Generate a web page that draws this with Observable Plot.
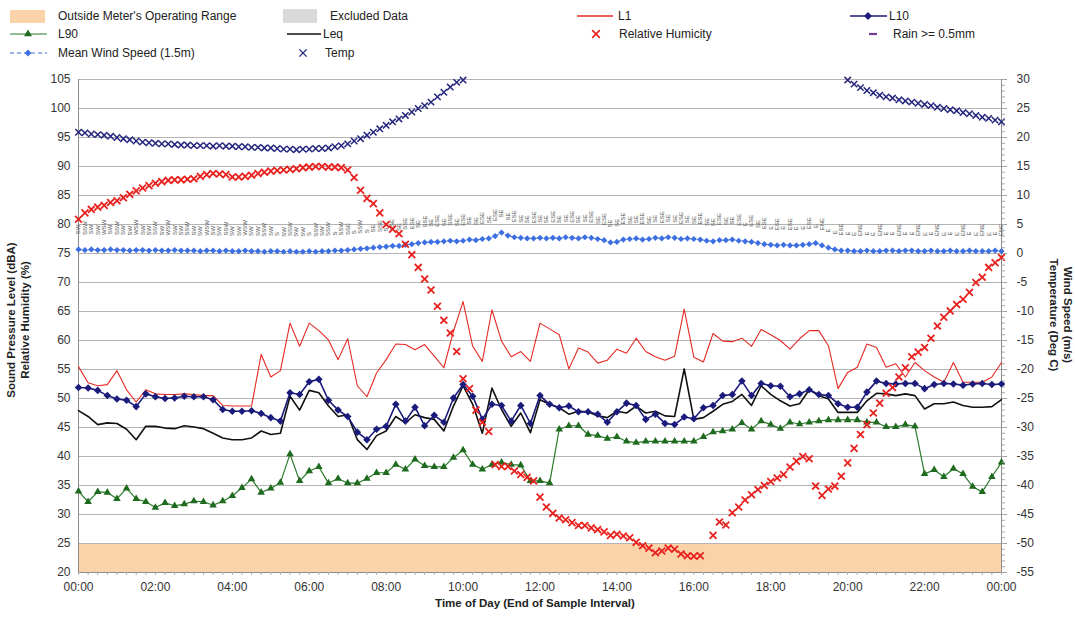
<!DOCTYPE html>
<html><head><meta charset="utf-8">
<script src="https://cdn.jsdelivr.net/npm/d3@7"></script>
<script src="https://cdn.jsdelivr.net/npm/@observablehq/plot@0.6"></script>
<style>
body{margin:0;background:#fff;font-family:'Liberation Sans',Arial,sans-serif;}
#legend,#chart{display:block;width:1075px;}
</style></head><body>
<div id="legend"></div>
<div id="chart"></div>
<script>
// ---- sample times (minutes after midnight) ----
const T15 = d3.range(97).map(i => i * 15);   // noise: 15-min intervals 00:00..24:00
const T10 = d3.range(145).map(j => j * 10);  // weather: 10-min intervals 00:00..24:00

// ---- noise levels (dBA) ----
const L1 = [55.5,52.7,52.2,52.4,54.8,51.5,49.4,51.5,50.8,50.7,50.7,50.8,50.7,50.5,50.5,48.8,48.7,48.7,48.7,57.6,53.7,54.8,63.0,59.0,63.0,
61.7,60.1,56.7,60.3,52.2,50.3,54.4,56.7,59.4,59.3,58.4,59.3,57.3,55.3,61.6,66.7,59.0,56.4,65.3,59.9,57.2,58.1,56.4,63.0,
62.0,61.0,55.1,58.7,58.0,56.1,56.6,58.5,57.8,60.4,58.1,57.2,56.6,57.3,65.4,57.1,56.3,61.2,59.9,59.8,60.4,59.0,61.9,61.0,
60.0,58.5,60.3,61.7,61.7,59.1,51.7,54.5,55.4,59.4,58.8,55.4,56.0,53.7,56.2,54.8,53.7,52.8,56.2,52.8,52.8,52.8,53.7,56.2];
const L10 = [51.9,51.8,51.4,50.5,49.9,49.7,48.6,50.8,50.3,50.0,50.1,50.4,50.3,50.3,49.8,48.1,47.8,47.8,47.9,47.4,46.7,46.1,51.0,50.7,52.9,
53.3,49.7,48.0,46.9,44.2,42.9,44.7,45.2,49.0,46.1,48.5,45.3,47.1,45.9,50.1,52.4,50.4,46.4,49.0,48.8,46.1,48.8,45.7,50.5,
49.0,48.4,48.7,47.7,47.7,47.3,45.9,47.7,49.2,48.8,46.4,47.3,45.7,45.5,46.8,46.5,48.4,48.8,50.5,50.7,53.0,50.5,52.6,52.2,
52.1,50.3,50.8,51.5,50.7,50.5,49.1,48.5,48.5,51.1,53.0,52.6,52.5,52.6,52.6,51.7,52.4,52.6,52.5,52.3,52.5,52.6,52.4,52.5];
const L90 = [34.0,32.2,33.9,33.8,32.7,34.5,32.7,32.2,31.2,32.0,31.5,31.8,32.3,32.2,31.6,32.3,33.2,34.6,36.1,33.8,34.5,35.5,40.4,35.8,37.5,
38.2,35.4,36.2,35.4,35.4,36.2,37.2,37.2,38.6,37.8,39.5,38.4,38.2,38.2,39.8,41.1,38.6,37.8,38.6,39.0,38.6,38.5,35.8,35.8,
35.4,44.7,45.3,45.3,43.8,43.6,43.1,43.4,42.6,42.4,42.6,42.6,42.6,42.6,42.6,42.6,43.4,44.2,44.4,44.7,45.8,44.7,46.1,45.5,
44.8,45.9,45.6,45.9,46.1,46.3,46.3,46.3,46.3,45.9,45.9,45.1,45.1,45.5,45.2,37.0,37.7,36.5,37.9,37.0,34.8,33.9,36.5,39.0];
const LEQ = [47.9,46.9,45.5,45.8,45.7,44.7,42.9,45.2,45.2,44.9,44.8,45.3,45.1,44.8,44.0,43.2,42.9,42.9,43.2,44.4,43.8,44.0,50.4,48.0,51.4,
51.0,48.7,46.9,47.2,42.9,41.2,43.6,44.4,46.9,45.8,47.2,46.7,46.4,44.4,48.7,52.2,49.0,44.0,51.8,48.1,45.2,47.5,44.1,49.8,
49.0,48.4,47.3,47.8,47.7,47.0,46.7,47.8,47.5,48.7,47.5,47.8,47.0,46.9,55.1,46.4,46.7,47.8,49.0,49.5,50.7,48.8,52.2,50.7,
49.6,48.7,49.1,51.5,50.5,49.9,47.6,47.6,47.6,49.6,50.9,50.8,50.5,50.8,50.5,48.2,49.1,49.1,49.4,48.8,48.5,48.5,48.6,49.8];

// ---- weather (10-min) ----
const RH = [80.9,82.0,82.6,83.0,83.3,83.8,84.1,84.6,85.2,85.8,86.3,86.7,87.1,87.4,87.6,87.7,87.7,87.8,87.9,88.3,
88.6,88.8,88.7,88.6,88.2,88.2,88.3,88.5,88.8,89.0,89.2,89.3,89.4,89.5,89.6,89.8,89.9,90.0,90.0,89.9,89.9,89.8,
89.4,88.1,85.9,84.5,83.6,82.0,80.0,79.2,78.4,
76.6,74.8,72.6,70.6,68.7,65.9,63.5,61.3,58.1,53.4,51.7,48.0,45.9,44.3,
38.6,38.3,38.3,37.5,36.9,36.4,35.8,
33.0,31.3,30.2,29.4,29.1,28.6,28.1,28.1,27.7,27.4,27.0,26.4,26.6,26.3,26.0,25.2,24.6,24.2,23.4,23.7,24.2,24.0,23.2,22.9,22.8,22.9,null,
26.4,28.7,28.2,30.3,31.3,32.5,33.4,34.3,35.0,35.7,36.3,36.9,38.2,39.2,40.0,39.6,
34.9,33.3,34.4,34.9,36.6,38.9,41.4,43.8,45.5,47.5,49.2,50.9,51.9,53.7,55.3,57.2,58.0,58.8,60.4,62.5,64.0,65.1,66.2,67.1,68.3,70.0,70.9,72.6,73.4,74.3];
// temperature (deg C); readings above 30 deg C lie off the chart and are not shown
const TEMP = [20.9,20.8,20.6,20.5,20.4,20.2,20.0,19.8,19.6,19.4,19.2,19.1,19.0,18.9,18.9,18.8,18.7,18.7,18.6,18.6,
18.6,18.5,18.6,18.5,18.5,18.4,18.4,18.3,18.3,18.2,18.2,18.1,18.0,18.0,17.9,18.0,18.0,18.1,18.1,18.2,
18.4,18.6,18.9,19.4,19.8,20.4,20.9,21.5,22.1,22.7,23.2,23.8,24.4,25.0,25.5,26.1,27.0,27.8,28.7,29.5,29.9,
...Array(59).fill(null),
29.9,29.2,28.6,28.1,27.7,27.3,27.0,26.8,26.5,26.3,26.1,25.9,25.7,25.5,25.2,25.0,24.8,24.6,24.3,24.1,23.8,23.5,23.3,23.0,22.7];
const WIND = [0.7,0.6,0.7,0.6,0.6,0.7,0.6,0.6,0.5,0.6,0.6,0.5,0.6,0.5,0.5,0.6,0.5,0.5,0.5,0.4,
0.5,0.5,0.4,0.5,0.4,0.4,0.5,0.4,0.4,0.3,0.4,0.4,0.3,0.4,0.3,0.3,0.4,0.3,0.4,0.4,0.5,0.5,
0.6,0.7,0.8,0.9,1.0,1.1,1.2,1.3,1.3,1.5,1.6,1.8,1.9,2.0,2.0,2.1,2.2,2.1,
2.2,2.4,2.3,2.5,2.6,3.0,3.6,3.1,2.8,2.7,2.6,2.6,2.7,
2.6,2.7,2.6,2.8,2.7,2.6,2.8,2.7,2.5,2.3,1.9,2.0,2.4,2.5,2.6,2.4,2.5,2.7,2.6,2.8,2.7,2.5,2.6,2.5,2.4,2.2,2.1,2.3,
2.3,2.4,2.2,2.1,2.0,1.8,1.6,1.5,
1.4,1.5,1.4,1.4,1.5,1.6,1.8,1.4,1.0,0.7,0.5,
0.5,0.4,0.4,0.5,0.4,0.4,0.5,0.5,0.4,0.5,0.5,0.4,0.4,0.5,0.4,0.4,0.5,0.4,0.4,0.5,0.4,0.4,0.4,0.5,0.4];
const WIND_DIR = ("SW SSW SW SW WSW SW SSW SW SW WSW SW SW SSW SW WSW SW SW SSW SW SW " +
"WSW SW SW SSW SW SW WSW SW SW SSW SW S SW SSW SW SW S SSW SW SSW " +
"S SSW SSE S SSW S SE SSE S SSE SE SSE ESE SE SSE SE ESE SE SSE SE " +
"ESE SE SE ESE SE ESE SE SE ESE SE SE ESE SE SE ESE SE SE ESE SE SE " +
"ESE SE ESE SE SE ESE SE SE ESE SE SE ESE SE SE ESE SE SE ESE SE SE " +
"ESE SE SE ESE E ESE SE ESE E ESE E ESE E E ESE E ENE E E ESE " +
"E E ENE E E ENE E E ENE E E ENE E E ENE E E E ENE E E ENE E E ENE").split(" ");

// ---- axis / reference values ----
const LEFT_TICKS = d3.range(20, 106, 5);      // dBA / %
const RIGHT_MINOR = d3.range(20, 106, 1);
const RIGHT_OFFSET = 75;                      // right axis value = left value - 75
const X_TICKS = d3.range(0, 1441, 120);
const X_MINOR = d3.range(0, 1441, 15);
const METER_RANGE = [{lo: 20, hi: 25}];

const fmtTime = m => String(Math.floor(m / 60) % 24).padStart(2, "0") + ":" + String(m % 60).padStart(2, "0");
const rows = (times, vals) => times.map((t, i) => ({t, v: vals[i] == null ? NaN : vals[i]}));
const l1 = rows(T15, L1), l10 = rows(T15, L10), l90 = rows(T15, L90), leq = rows(T15, LEQ);
const rh = rows(T10, RH), temp = rows(T10, TEMP);
const wind = T10.map((t, i) => ({t, v: WIND[i], dir: WIND_DIR[i]}));

const C = {l1: "#e52a24", l10: "#1b1b7c", l90: "#2a7a2a", l90m: "#1e6a1e", leq: "#111", rh: "#e8211e",
  temp: "#25257d", wind: "#3d6fe0", orange: "#fbd3a9", excl: "#d9d9d9", rain: "#7a3a9a"};

const chart = Plot.plot({
  width: 1075, height: 553,
  marginTop: 14, marginBottom: 46, marginLeft: 78, marginRight: 74,
  style: {fontFamily: "'Liberation Sans', Arial, sans-serif", fontSize: "12px", color: "#333", background: "#fff"},
  x: {domain: [0, 1440]},
  y: {domain: [20, 105]},
  marks: [
    Plot.rect(METER_RANGE, {y1: "lo", y2: "hi", fill: C.orange}),
    Plot.gridY(LEFT_TICKS, {stroke: "#b4b4b4", strokeOpacity: 1}),
    Plot.ruleX([0, 1440], {stroke: "#8c8c8c"}),
    Plot.text(wind, {x: "t", y: d => d.v + RIGHT_OFFSET + 2.6, text: "dir", rotate: -90, textAnchor: "start",
      fontSize: 6, fill: "#555"}),
    Plot.line(wind, {x: "t", y: d => d.v + RIGHT_OFFSET, stroke: C.wind, strokeWidth: 1, strokeDasharray: "3,2"}),
    Plot.dot(wind, {x: "t", y: d => d.v + RIGHT_OFFSET, symbol: "diamond2", r: 2.8, fill: C.wind}),
    Plot.line(l1, {x: "t", y: "v", stroke: C.l1, strokeWidth: 1.1}),
    Plot.line(leq, {x: "t", y: "v", stroke: C.leq, strokeWidth: 1.6}),
    Plot.line(l10, {x: "t", y: "v", stroke: C.l10, strokeWidth: 1.6}),
    Plot.dot(l10, {x: "t", y: "v", symbol: "diamond2", r: 3.4, fill: C.l10}),
    Plot.line(l90, {x: "t", y: "v", stroke: C.l90, strokeWidth: 1.2}),
    Plot.dot(l90, {x: "t", y: "v", symbol: "triangle2", r: 3.6, fill: C.l90m}),
    Plot.dot(rh, {x: "t", y: "v", symbol: "times", r: 3.2, stroke: C.rh, strokeWidth: 1.8}),
    Plot.dot(temp, {x: "t", y: d => d.v + RIGHT_OFFSET, symbol: "times", r: 3, stroke: C.temp, strokeWidth: 1.5}),
    Plot.ruleY([20], {stroke: "#8c8c8c"}),
    Plot.axisY(LEFT_TICKS, {anchor: "left", tickSize: 0, tickPadding: 8, label: null}),
    Plot.axisY(LEFT_TICKS, {anchor: "right", tickSize: 5, tickPadding: 10, tickFormat: d => String(d - RIGHT_OFFSET), label: null, stroke: "#999"}),
    Plot.axisY(RIGHT_MINOR, {anchor: "right", tickSize: 3, tickFormat: () => "", label: null, stroke: "#aaa"}),
    Plot.axisX(X_MINOR, {anchor: "bottom", tickSize: 3, tickFormat: () => "", label: null, stroke: "#aaa"}),
    Plot.axisX(X_TICKS, {anchor: "bottom", tickSize: 0, tickPadding: 10, tickFormat: fmtTime, label: null})
  ]
});

// axis titles
const s = d3.select(chart);
const bold = sel => sel.attr("font-weight", "bold").attr("font-size", 11.5).attr("fill", "#222").attr("text-anchor", "middle");
s.append("text").attr("transform", "translate(15,255) rotate(-90)").text("Sound Pressure Level (dBA)").call(bold);
s.append("text").attr("transform", "translate(29,255) rotate(-90)").text("Relative Humidity (%)").call(bold);
s.append("text").attr("transform", "translate(1064,250) rotate(90)").text("Wind Speed (m/s)").call(bold);
s.append("text").attr("transform", "translate(1050,250) rotate(90)").text("Temperature (Deg C)").call(bold);
s.append("text").attr("x", 535).attr("y", 542).text("Time of Day (End of Sample Interval)").call(bold);
document.getElementById("chart").appendChild(chart);

// legend
const lg = d3.select("#legend").append("svg").attr("width", 1075).attr("height", 65)
  .style("display", "block").style("font-family", "'Liberation Sans', Arial, sans-serif").style("font-size", "12px");
const txt = (x, y, t) => lg.append("text").attr("x", x).attr("y", y).attr("dy", "0.35em").attr("fill", "#222").text(t);
const sym = (type, size) => d3.symbol(type, size)();
const R1 = 16, R2 = 34, R3 = 53;
lg.append("rect").attr("x", 10).attr("y", 10).attr("width", 35).attr("height", 13).attr("fill", C.orange);
txt(58, R1, "Outside Meter's Operating Range");
lg.append("rect").attr("x", 283).attr("y", 9).attr("width", 34).attr("height", 14).attr("fill", C.excl);
txt(330, R1, "Excluded Data");
lg.append("line").attr("x1", 577).attr("x2", 613).attr("y1", R1).attr("y2", R1).attr("stroke", C.l1).attr("stroke-width", 1.3);
txt(618, R1, "L1");
lg.append("line").attr("x1", 850).attr("x2", 887).attr("y1", R1).attr("y2", R1).attr("stroke", C.l10).attr("stroke-width", 1.6);
lg.append("path").attr("d", sym(d3.symbolDiamond2, 40)).attr("transform", `translate(868,${R1})`).attr("fill", C.l10);
txt(889, R1, "L10");
lg.append("line").attr("x1", 10).attr("x2", 47).attr("y1", R2).attr("y2", R2).attr("stroke", C.l90).attr("stroke-width", 1.2);
lg.append("path").attr("d", sym(d3.symbolTriangle2, 45)).attr("transform", `translate(28,${R2})`).attr("fill", C.l90m);
txt(58, R2, "L90");
lg.append("line").attr("x1", 287).attr("x2", 321).attr("y1", R2).attr("y2", R2).attr("stroke", C.leq).attr("stroke-width", 1.6);
txt(323, R2, "Leq");
lg.append("path").attr("d", sym(d3.symbolTimes, 40)).attr("transform", `translate(596,${R2})`).attr("fill", "none").attr("stroke", C.rh).attr("stroke-width", 1.6);
txt(619, R2, "Relative Humicity");
lg.append("line").attr("x1", 869).attr("x2", 877).attr("y1", R2).attr("y2", R2).attr("stroke", C.rain).attr("stroke-width", 2.2);
txt(893, R2, "Rain >= 0.5mm");
lg.append("line").attr("x1", 10).attr("x2", 47).attr("y1", R3).attr("y2", R3).attr("stroke", C.wind).attr("stroke-width", 1.2).attr("stroke-dasharray", "4,3");
lg.append("path").attr("d", sym(d3.symbolDiamond2, 30)).attr("transform", `translate(28,${R3})`).attr("fill", C.wind);
txt(58, R3, "Mean Wind Speed (1.5m)");
lg.append("path").attr("d", sym(d3.symbolTimes, 36)).attr("transform", `translate(303,${R3})`).attr("fill", "none").attr("stroke", C.temp).attr("stroke-width", 1.4);
txt(325, R3, "Temp");
</script>
</body></html>
